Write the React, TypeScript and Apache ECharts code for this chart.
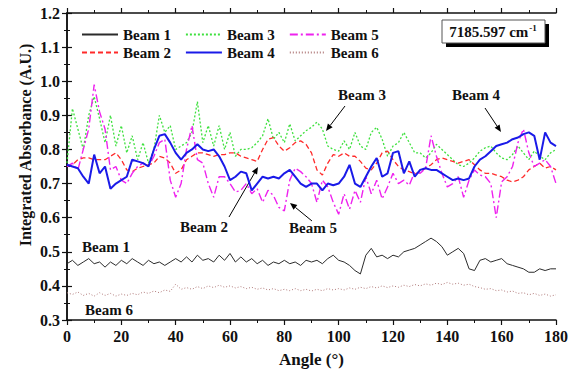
import React, { useEffect, useRef } from "react";
import * as echarts from "echarts";

const angles: number[] = Array.from({ length: 91 }, (_, i) => i * 2);

const beam1 = [0.465,0.475,0.46,0.47,0.48,0.465,0.47,0.455,0.47,0.46,0.475,0.465,0.48,0.47,0.46,0.475,0.465,0.47,0.46,0.47,0.48,0.47,0.485,0.47,0.49,0.475,0.48,0.47,0.49,0.475,0.495,0.47,0.485,0.47,0.48,0.465,0.475,0.46,0.47,0.465,0.475,0.465,0.47,0.46,0.475,0.47,0.475,0.465,0.48,0.49,0.475,0.47,0.46,0.445,0.435,0.49,0.51,0.485,0.49,0.48,0.49,0.485,0.5,0.505,0.51,0.52,0.53,0.54,0.53,0.515,0.49,0.5,0.51,0.495,0.45,0.445,0.475,0.48,0.47,0.475,0.48,0.465,0.46,0.455,0.45,0.44,0.44,0.45,0.445,0.45,0.45];
const beam2 = [0.75,0.755,0.77,0.775,0.775,0.77,0.77,0.77,0.78,0.79,0.77,0.74,0.735,0.745,0.75,0.755,0.76,0.78,0.775,0.76,0.73,0.74,0.77,0.78,0.79,0.79,0.785,0.78,0.785,0.785,0.79,0.79,0.78,0.775,0.77,0.765,0.8,0.83,0.835,0.81,0.795,0.805,0.82,0.825,0.815,0.79,0.74,0.725,0.76,0.785,0.78,0.79,0.78,0.78,0.765,0.745,0.74,0.76,0.79,0.795,0.77,0.75,0.74,0.735,0.728,0.735,0.745,0.755,0.77,0.775,0.77,0.765,0.76,0.765,0.77,0.755,0.74,0.73,0.73,0.725,0.72,0.71,0.705,0.71,0.72,0.74,0.75,0.76,0.745,0.75,0.74];
const beam3 = [0.76,0.92,0.86,0.8,0.9,0.955,0.89,0.82,0.9,0.81,0.87,0.79,0.84,0.77,0.82,0.76,0.8,0.9,0.85,0.87,0.8,0.81,0.82,0.85,0.94,0.82,0.87,0.81,0.87,0.8,0.85,0.78,0.8,0.8,0.805,0.82,0.84,0.89,0.83,0.85,0.82,0.875,0.825,0.84,0.855,0.865,0.88,0.86,0.81,0.8,0.795,0.825,0.8,0.85,0.81,0.8,0.85,0.865,0.83,0.78,0.81,0.82,0.85,0.82,0.79,0.79,0.775,0.79,0.815,0.8,0.785,0.77,0.755,0.75,0.76,0.775,0.795,0.805,0.81,0.79,0.775,0.77,0.785,0.81,0.79,0.77,0.795,0.78,0.77,0.79,0.8];
const beam4 = [0.755,0.75,0.745,0.72,0.7,0.785,0.73,0.75,0.685,0.7,0.71,0.72,0.77,0.765,0.76,0.75,0.8,0.84,0.845,0.82,0.79,0.77,0.79,0.8,0.815,0.8,0.795,0.8,0.78,0.75,0.71,0.72,0.735,0.73,0.68,0.7,0.72,0.715,0.72,0.715,0.73,0.74,0.72,0.7,0.69,0.7,0.7,0.68,0.7,0.695,0.7,0.72,0.755,0.7,0.69,0.72,0.75,0.775,0.72,0.73,0.79,0.795,0.73,0.765,0.72,0.74,0.745,0.74,0.74,0.73,0.72,0.71,0.715,0.71,0.715,0.75,0.77,0.78,0.795,0.81,0.815,0.82,0.83,0.835,0.845,0.85,0.84,0.77,0.85,0.82,0.81];
const beam5 = [0.75,0.76,0.74,0.8,0.86,0.99,0.91,0.86,0.74,0.75,0.71,0.7,0.73,0.75,0.76,0.75,0.78,0.82,0.83,0.71,0.66,0.7,0.8,0.87,0.77,0.76,0.7,0.66,0.72,0.72,0.7,0.675,0.68,0.7,0.67,0.685,0.645,0.68,0.665,0.63,0.62,0.71,0.745,0.735,0.72,0.7,0.645,0.71,0.69,0.645,0.61,0.67,0.625,0.68,0.645,0.72,0.67,0.71,0.655,0.69,0.73,0.7,0.71,0.695,0.735,0.73,0.745,0.84,0.78,0.73,0.69,0.7,0.72,0.66,0.71,0.74,0.725,0.72,0.7,0.6,0.705,0.72,0.75,0.82,0.86,0.79,0.75,0.76,0.77,0.75,0.7];
const beam6 = [0.38,0.375,0.382,0.372,0.378,0.37,0.38,0.372,0.378,0.37,0.376,0.372,0.378,0.374,0.382,0.378,0.385,0.38,0.388,0.384,0.405,0.39,0.395,0.39,0.398,0.392,0.4,0.395,0.402,0.396,0.4,0.394,0.398,0.392,0.396,0.39,0.394,0.388,0.392,0.386,0.39,0.386,0.392,0.386,0.39,0.385,0.39,0.386,0.392,0.388,0.392,0.388,0.394,0.39,0.396,0.392,0.398,0.394,0.4,0.395,0.4,0.396,0.402,0.398,0.404,0.4,0.406,0.402,0.408,0.404,0.41,0.405,0.408,0.402,0.405,0.398,0.395,0.39,0.392,0.386,0.388,0.382,0.385,0.378,0.38,0.374,0.378,0.372,0.376,0.37,0.374];

const legendRow1 = ["Beam 1", "Beam 3", "Beam 5"];
const legendRow2 = ["Beam 2", "Beam 4", "Beam 6"];

const FONT = '"Liberation Serif", "DejaVu Serif", serif';

function arrow(x1: number, y1: number, x2: number, y2: number) {
  const dx = x2 - x1, dy = y2 - y1;
  const L = Math.hypot(dx, dy);
  const ux = dx / L, uy = dy / L;
  const hl = 7, hw = 3;
  const bx = x2 - ux * hl, by = y2 - uy * hl;
  return [
    { type: "line", shape: { x1, y1, x2: bx, y2: by }, style: { stroke: "#000", lineWidth: 1 } },
    {
      type: "polygon",
      shape: { points: [[x2, y2], [bx - uy * hw, by + ux * hw], [bx + uy * hw, by - ux * hw]] },
      style: { fill: "#000" },
    },
  ];
}

function label(text: string, x: number, y: number) {
  return {
    type: "text",
    x,
    y,
    style: { text, font: `bold 15px ${FONT}`, fill: "#111", align: "center", verticalAlign: "middle" },
  };
}

export default function App() {
  const ref = useRef<HTMLDivElement>(null);
  useEffect(() => {
    if (!ref.current) return;
    const chart = echarts.init(ref.current, null, { renderer: "svg" });
    const pair = (arr: number[]) => arr.map((v, i) => [angles[i], v]);
    const mk = (name: string, data: number[], color: string, width: number, type: any, z: number) => ({
      name,
      type: "line",
      data: pair(data),
      showSymbol: false,
      symbol: "none",
      z,
      lineStyle: { color, width, type },
      itemStyle: { color },
    });
    const axisCommon = {
      axisLine: { lineStyle: { color: "#111", width: 1.5 } },
      axisTick: { inside: false, length: 5, lineStyle: { color: "#111", width: 1.2 } },
      minorTick: { show: true, splitNumber: 2, length: 3, lineStyle: { color: "#111", width: 1 } },
      splitLine: { show: false },
    };
    const legendCommon = {
      left: 76,
      itemWidth: 36,
      itemHeight: 12,
      itemGap: 14,
      itemStyle: { opacity: 0 },
      textStyle: { fontFamily: FONT, fontWeight: "bold", fontSize: 15, color: "#111" },
    };
    chart.setOption({
      animation: false,
      backgroundColor: "#fff",
      grid: { left: 67, right: 18, top: 13, bottom: 52 },
      legend: [
        { ...legendCommon, data: legendRow1, top: 22 },
        { ...legendCommon, data: legendRow2, top: 40 },
      ],
      xAxis: [
        {
          type: "value",
          min: 0,
          max: 180,
          interval: 20,
          ...axisCommon,
          axisLabel: { fontFamily: FONT, fontWeight: "bold", fontSize: 16, color: "#111", margin: 8 },
          name: "Angle (°)",
          nameLocation: "middle",
          nameGap: 31,
          nameTextStyle: { fontFamily: FONT, fontWeight: "bold", fontSize: 17, color: "#111" },
        },
        {
          type: "value",
          position: "top",
          min: 0,
          max: 180,
          interval: 20,
          ...axisCommon,
          axisLabel: { show: false },
        },
      ],
      yAxis: [
        {
          type: "value",
          min: 0.3,
          max: 1.2,
          interval: 0.1,
          ...axisCommon,
          axisLabel: {
            fontFamily: FONT,
            fontWeight: "bold",
            fontSize: 16,
            color: "#111",
            margin: 7,
            formatter: (v: number) => v.toFixed(1),
          },
        },
        {
          type: "value",
          position: "right",
          min: 0.3,
          max: 1.2,
          interval: 0.1,
          ...axisCommon,
          axisLabel: { show: false },
        },
      ],
      series: [
        mk("Beam 1", beam1, "#2b2b2b", 1, "solid", 2),
        mk("Beam 6", beam6, "#b07a7a", 1, [1, 2], 2),
        mk("Beam 3", beam3, "#3ee03e", 1.3, [2, 2], 3),
        mk("Beam 2", beam2, "#ff2a2a", 1.3, [5, 3], 4),
        mk("Beam 5", beam5, "#ee22ee", 1.4, [8, 3, 2, 3], 5),
        mk("Beam 4", beam4, "#1a1ae8", 2, "solid", 6),
      ],
      graphic: [
        {
          type: "text",
          x: 25,
          y: 145,
          rotation: Math.PI / 2,
          style: {
            text: "Integrated Absorbance (A.U.)",
            font: `bold 16px ${FONT}`,
            fill: "#111",
            align: "center",
            verticalAlign: "middle",
          },
        },
        { type: "rect", shape: { x: 446, y: 24, width: 103, height: 23 }, style: { fill: "#000" }, z: 10 },
        {
          type: "rect",
          shape: { x: 442, y: 20, width: 103, height: 23 },
          style: { fill: "#fff", stroke: "#555", lineWidth: 1 },
          z: 11,
        },
        {
          type: "text",
          x: 493,
          y: 32,
          z: 12,
          style: {
            text: "{a|7185.597 cm}{b|-1}",
            align: "center",
            verticalAlign: "middle",
            rich: {
              a: { font: `bold 15px ${FONT}`, fill: "#111" },
              b: { font: `bold 9px ${FONT}`, fill: "#111", padding: [0, 0, 8, 1] },
            },
          },
        },
        label("Beam 3", 362, 95),
        label("Beam 4", 476, 95),
        label("Beam 2", 204, 227),
        label("Beam 5", 313, 228),
        label("Beam 1", 106, 247),
        label("Beam 6", 109, 310),
        ...arrow(345, 106, 326, 131),
        ...arrow(485, 108, 501, 132),
        ...arrow(229, 217, 258, 167),
        ...arrow(312, 221, 290, 203),
      ],
    });
    return () => chart.dispose();
  }, []);
  return (
    <div
      ref={ref}
      style={{ position: "fixed", left: 0, top: 0, width: 574, height: 373, background: "#fff" }}
    />
  );
}
